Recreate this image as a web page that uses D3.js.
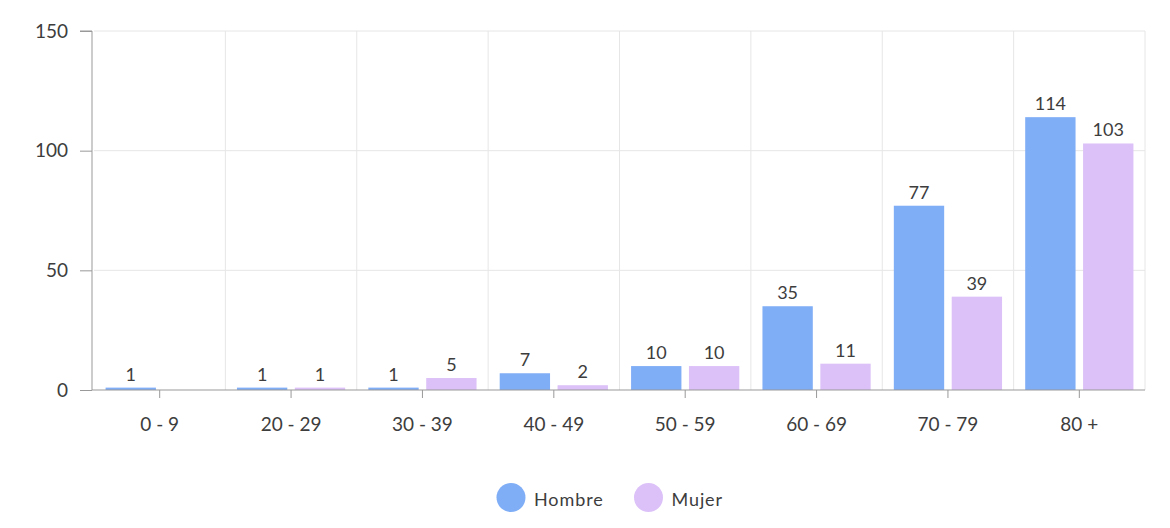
<!DOCTYPE html>
<html><head><meta charset="utf-8">
<script src="https://cdn.jsdelivr.net/npm/d3@7"></script>
<style>
html,body{margin:0;padding:0;background:#fff;}
text{font-family:Lato,"Open Sans",sans-serif;}
</style></head>
<body><svg id="c" width="1170" height="528"></svg>
<script>
const categories = ["0 - 9","20 - 29","30 - 39","40 - 49","50 - 59","60 - 69","70 - 79","80 +"];
const seriesNames = ["Hombre","Mujer"];
const hombre = [1,1,1,7,10,35,77,114];
const mujer = [null,1,5,2,10,11,39,103];
const yTicks = [0,50,100,150];
const colors = ["#80aef6","#dcc1f8"];

const svg = d3.select("#c");
const L = 94, R = 1145, T = 31, B = 390;
const x = d3.scaleBand().domain(categories).range([L, R]).paddingInner(0).paddingOuter(0);
const xs = d3.scaleBand().domain(seriesNames).range([0, x.bandwidth()]).paddingInner(0.13).paddingOuter(0.2);
const y = d3.scaleLinear().domain([0,150]).range([B, T]);
const txt = "#3d3d3d";

// grid
svg.append("g").selectAll("line").data(yTicks.filter(d=>d>0)).join("line")
  .attr("x1", L).attr("x2", R).attr("y1", d=>y(d)).attr("y2", d=>y(d))
  .attr("stroke","#e6e6e6").attr("stroke-width",1);
const bounds = categories.map(c=>x(c)).concat([R]).slice(1);
svg.append("g").selectAll("line").data(bounds).join("line")
  .attr("x1", d=>d).attr("x2", d=>d).attr("y1", T).attr("y2", B)
  .attr("stroke","#e6e6e6").attr("stroke-width",1);

// bars
const series = [hombre, mujer];
series.forEach((vals, si) => {
  const g = svg.append("g");
  const data = categories.map((c,i)=>({c, v: vals[i]})).filter(d=>d.v!=null);
  g.selectAll("rect").data(data).join("rect")
    .attr("x", d=>x(d.c)+xs(seriesNames[si]))
    .attr("width", xs.bandwidth())
    .attr("y", d=>y(d.v))
    .attr("height", d=>B - y(d.v))
    .attr("fill", colors[si]);
  g.selectAll("text").data(data).join("text")
    .attr("x", d=>x(d.c)+xs(seriesNames[si])+xs.bandwidth()/2)
    .attr("y", d=>y(d.v)-7)
    .attr("text-anchor","middle")
    .attr("font-size",18).attr("fill",txt)
    .text(d=>d.v);
});

// y axis
const yAxis = d3.axisLeft(y).tickValues(yTicks).tickSize(12).tickPadding(12);
const ya = svg.append("g").attr("transform",`translate(92,0)`).call(yAxis);
ya.select(".domain").attr("stroke","#999").attr("d",`M-12,${T}H0V${B}`);
ya.selectAll(".tick line").attr("stroke","#999");
ya.selectAll(".tick text").attr("font-size",19).attr("fill",txt).attr("font-family","Lato,sans-serif");

// x axis
const xAxis = d3.axisBottom(x).tickSize(8).tickPadding(20).tickSizeOuter(0);
const xa = svg.append("g").attr("transform",`translate(0,${B})`).call(xAxis);
xa.select(".domain").attr("stroke","#999").attr("d",`M92,0H${R}`);
xa.selectAll(".tick line").attr("stroke","#999");
xa.selectAll(".tick text").attr("font-size",19).attr("fill",txt).attr("font-family","Lato,sans-serif");

// legend
const leg = svg.append("g");
const legX = [511, 648.5];
seriesNames.forEach((n,i)=>{
  leg.append("circle").attr("cx",legX[i]).attr("cy",497.5).attr("r",14.5).attr("fill",colors[i]);
  leg.append("text").attr("x",legX[i]+23).attr("y",506).attr("font-size",18)
    .attr("letter-spacing","0.9px").attr("fill",txt).text(n);
});
</script></body></html>
